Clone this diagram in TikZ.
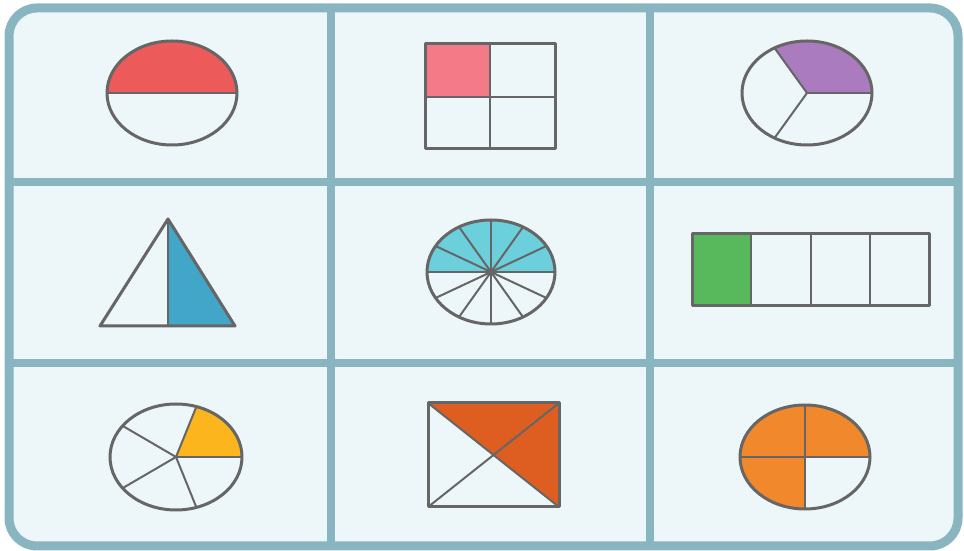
\documentclass[tikz,border=0pt]{standalone}
\begin{document}
\begin{tikzpicture}[x=1pt,y=1pt,
  framecol/.style={draw=frameC},
  outline/.style={draw=shapeC, line width=3pt, line join=round},
  inner/.style={draw=shapeC, line width=2pt},
]
\definecolor{frameC}{HTML}{88B5C0}
\definecolor{bgC}{HTML}{EDF6F9}
\definecolor{shapeC}{HTML}{666666}
\definecolor{redC}{HTML}{EC5A5A}
\definecolor{pinkC}{HTML}{F47A88}
\definecolor{purpleC}{HTML}{AB7BC0}
\definecolor{blueC}{HTML}{42A6C8}
\definecolor{cyanC}{HTML}{6CCFDC}
\definecolor{greenC}{HTML}{58B85C}
\definecolor{yellowC}{HTML}{FDB51D}
\definecolor{darkorC}{HTML}{DD5E20}
\definecolor{orangeC}{HTML}{F2882C}
\useasboundingbox (0,0) rectangle (964,551);
% background and grid
\fill[bgC, rounded corners=28pt] (9,5) rectangle (958,543);
\draw[frameC, line width=8pt] (331,5) -- (331,543);
\draw[frameC, line width=8pt] (650,5) -- (650,543);
\draw[frameC, line width=8pt] (9,369) -- (958,369);
\draw[frameC, line width=8pt] (9,188) -- (958,188);
\draw[frameC, line width=9pt, rounded corners=28pt] (9,5) rectangle (958,543);

% cell 1: half ellipse
\coordinate (c1) at (172,458);
\fill[redC] (c1) ++(0:65 and 52) arc[start angle=0,end angle=180,x radius=65,y radius=52] -- cycle;
\draw[inner] (c1) ++(180:65 and 52) -- ++(130,0);
\draw[outline] (c1) ellipse[x radius=65,y radius=52];

% cell 2: 2x2 rectangle
\coordinate (r2a) at (425,402);
\coordinate (r2b) at (555,507);
\fill[pinkC] (425,454) rectangle (490,507);
\draw[inner] (490,402) -- (490,507);
\draw[inner] (425,454) -- (555,454);
\draw[outline] (r2a) rectangle (r2b);

% cell 3: thirds
\coordinate (c3) at (807,458);
\fill[purpleC] (c3) -- ++(0:65 and 52) arc[start angle=0,end angle=120,x radius=65,y radius=52] -- cycle;
\foreach \a in {0,120,240} \draw[inner] (c3) -- ++(\a:65 and 52);
\draw[outline] (c3) ellipse[x radius=65,y radius=52];

% cell 4: triangle halves
\coordinate (t1) at (100,225);
\coordinate (t2) at (168,332);
\coordinate (t3) at (235,225);
\coordinate (t4) at (168,225);
\fill[blueC] (t2) -- (t3) -- (t4) -- cycle;
\draw[inner] (t2) -- (t4);
\draw[outline] (t1) -- (t2) -- (t3) -- cycle;

% cell 5: twelfths
\coordinate (c5) at (491,279);
\fill[cyanC] (c5) ++(0:64 and 52) arc[start angle=0,end angle=180,x radius=64,y radius=52] -- cycle;
\foreach \a in {0,30,...,330} \draw[inner] (c5) -- ++(\a:64 and 52);
\draw[outline] (c5) ellipse[x radius=64,y radius=52];

% cell 6: quarters bar
\coordinate (r6a) at (692,245);
\coordinate (r6b) at (929,317);
\fill[greenC] (692,245) rectangle (751.25,317);
\foreach \x in {751.25,810.5,869.75} \draw[inner] (\x,245) -- (\x,317);
\draw[outline] (r6a) rectangle (r6b);

% cell 7: fifths
\coordinate (c7) at (176,94);
\fill[yellowC] (c7) -- ++(0:66 and 53) arc[start angle=0,end angle=72,x radius=66,y radius=53] -- cycle;
\foreach \a in {0,72,144,216,288} \draw[inner] (c7) -- ++(\a:66 and 53);
\draw[outline] (c7) ellipse[x radius=66,y radius=53];

% cell 8: diagonals
\coordinate (r8a) at (428,44);
\coordinate (r8b) at (559,148);
\coordinate (r8c) at (493.5,96);
\fill[darkorC] (428,148) -- (559,148) -- (559,44) -- (r8c) -- cycle;
\draw[inner] (r8a) -- (r8b);
\draw[inner] (428,148) -- (559,44);
\draw[outline] (r8a) rectangle (r8b);

% cell 9: three quarters
\coordinate (c9) at (805,94);
\fill[orangeC] (c9) -- ++(0:65 and 52) arc[start angle=0,end angle=270,x radius=65,y radius=52] -- cycle;
\foreach \a in {0,90,180,270} \draw[inner] (c9) -- ++(\a:65 and 52);
\draw[outline] (c9) ellipse[x radius=65,y radius=52];
\end{tikzpicture}
\end{document}
